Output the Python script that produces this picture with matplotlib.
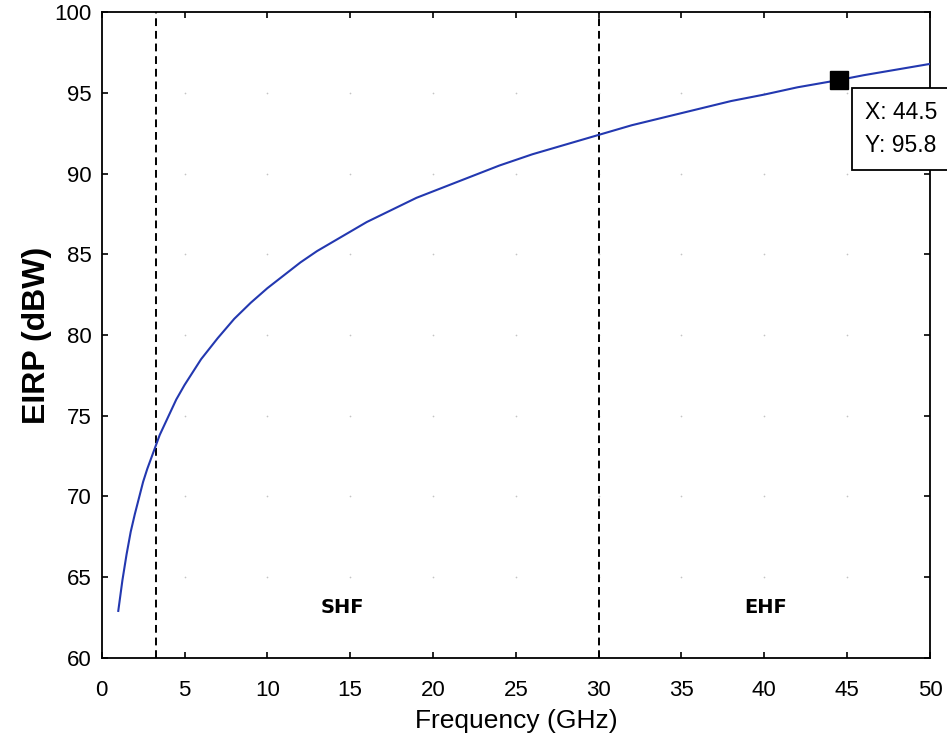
import numpy as np
import matplotlib.pyplot as plt

# EIRP (GHz -> dBW)
freq = [1, 1.25, 1.5, 1.75, 2, 2.25, 2.5, 2.75, 3, 3.5, 4, 4.5, 5, 5.5, 6,
        7, 8, 9, 10, 11, 12, 13, 14, 15, 16, 17, 18, 19, 20, 22, 24, 26, 28,
        30, 32, 34, 36, 38, 40, 42, 44.5, 46, 48, 50]
eirp = [62.9, 64.8, 66.4, 67.8, 68.9, 69.9, 70.9, 71.7, 72.4, 73.8, 74.9,
        76.0, 76.9, 77.7, 78.5, 79.8, 81.0, 82.0, 82.9, 83.7, 84.5, 85.2,
        85.8, 86.4, 87.0, 87.5, 88.0, 88.5, 88.9, 89.7, 90.5, 91.2, 91.8,
        92.4, 93.0, 93.5, 94.0, 94.5, 94.9, 95.35, 95.8, 96.1, 96.45, 96.8]
band_edges = [3.3, 30]
band_names = ['SHF', 'EHF']
band_label_x = [14.5, 40.1]
tip_x, tip_y = 44.5, 95.8
xticks = list(range(0, 55, 5))
yticks = list(range(60, 105, 5))

plt.rcParams['font.family'] = ['Liberation Sans', 'DejaVu Sans']

fig = plt.figure(figsize=(9.47, 7.44), dpi=100)
ax = fig.add_axes([0.1074, 0.116, 0.8746, 0.8675])

# matlab style grid: faint dots at the tick crossings only
gx, gy = np.meshgrid(xticks[1:-1], yticks[1:-1])
ax.scatter(gx.ravel(), gy.ravel(), s=1.5, color='#c4c4c4', lw=0, zorder=1)

ax.plot(freq, eirp, color='#2338b0', lw=1.5, zorder=3)
for xe in band_edges:
    ax.axvline(xe, color='black', ls=(0, (4, 2.5)), lw=1.4, zorder=2)
for name, xl in zip(band_names, band_label_x):
    ax.text(xl, 63.1, name, family='DejaVu Sans', weight='bold', fontsize=14,
            ha='center', va='center')

ax.plot([tip_x], [tip_y], 's', color='black', ms=13, zorder=5)
ax.text(tip_x + 1.55, tip_y - 1.3, 'X: %g\nY: %g' % (tip_x, tip_y),
        fontsize=16.5, ha='left', va='top', linespacing=1.55, zorder=6,
        bbox=dict(boxstyle='square,pad=0.55', fc='white', ec='black', lw=1.3),
        clip_on=False)

ax.set_xlim(0, 50)
ax.set_ylim(60, 100)
ax.set_xticks(xticks)
ax.set_yticks(yticks)
ax.tick_params(direction='in', length=4, width=1.2, labelsize=16,
               top=True, right=True)
ax.tick_params(axis='x', pad=16)
ax.tick_params(axis='y', pad=7)
for s in ax.spines.values():
    s.set_linewidth(1.3)

ax.set_xlabel('Frequency (GHz)', fontsize=19, labelpad=6)
ax.set_ylabel('EIRP (dBW)', fontsize=23, weight='bold', labelpad=2)

fig.savefig('out.png', dpi=100)
